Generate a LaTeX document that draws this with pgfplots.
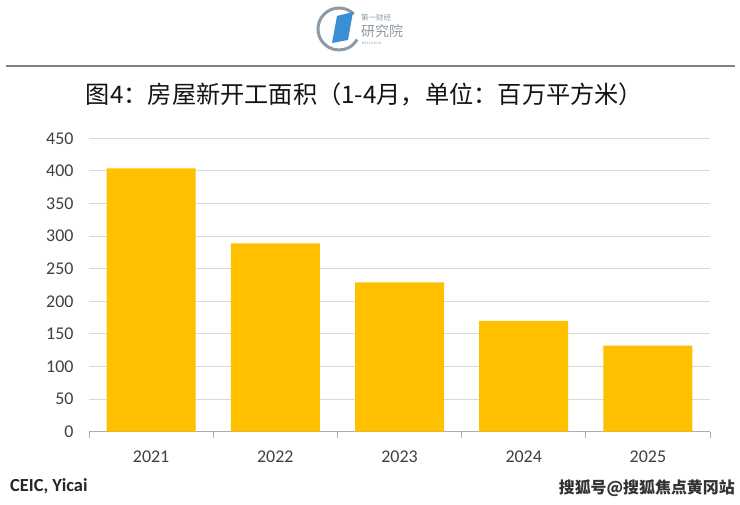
\documentclass[border=0pt]{standalone}
\usepackage{pgfplots}
\pgfplotsset{compat=1.18}
\usepackage{fontspec}
\setmainfont{Carlito}
\newfontfamily\cjk{Noto Sans CJK SC}
\definecolor{bargold}{HTML}{FFC000}
\definecolor{gridgray}{HTML}{D9D9D9}
\definecolor{labgray}{HTML}{404040}
\definecolor{logogray}{HTML}{8C9BA5}
\definecolor{logoblue}{HTML}{3B8FD4}
\begin{document}
\begin{tikzpicture}[x=1bp,y=1bp]
\path[use as bounding box, fill=white] (0,0) rectangle (740,505);
% logo
\draw[logogray, line width=3bp] (339,476) ++(45:21) arc[start angle=45, end angle=330, radius=21];
\fill[logoblue] (332,462) -- (337,489) -- (353,493) -- (348,465) -- cycle;
\node[anchor=west, text=logogray, inner sep=0, font=\cjk\fontsize{7.5}{8}\selectfont] at (361,487) {第一财经};
\node[anchor=west, text=logogray, inner sep=0, font=\cjk\fontsize{14}{14}\selectfont] at (361,474) {研究院};
\node[anchor=west, text=logogray, inner sep=0, font=\fontsize{3.5}{4}\selectfont] at (362,461.5) {R\,E\,S\,E\,A\,R\,C\,H};
% rule
\draw[black!50, line width=1.8bp] (6,439) -- (735,439);
% title
\node[font=\cjk\fontsize{24.3}{25}\selectfont, text=black!92, inner sep=0] at (364.5,411) {图4：房屋新开工面积（1-4月，单位：百万平方米）};
\begin{axis}[
  at={(89bp,73.3bp)}, anchor=south west,
  scale only axis, width=621bp, height=293.4bp,
  xmin=-0.5, xmax=4.5, ymin=0, ymax=450,
  ytick={0,50,...,450},
  xtick={0,1,2,3,4},
  xticklabels={2021,2022,2023,2024,2025},
  extra x ticks={-0.5,0.5,1.5,2.5,3.5,4.5},
  extra x tick labels={},
  extra x tick style={major tick length=6bp, tick align=outside, tick style={gridgray!80!black, line width=1bp}, grid=none},
  major tick length=0pt,
  ymajorgrids, grid style={gridgray, line width=1bp},
  axis x line*=bottom, axis y line*=left,
  y axis line style={draw=none},
  x axis line style={gridgray!80!black, line width=1bp},
  tick label style={font=\fontsize{18}{18}\selectfont, text=labgray},
  yticklabel style={xshift=-12bp},
  xticklabel style={yshift=-16bp},
  /pgf/number format/assume math mode=true,
  clip=false,
]
\addplot[ybar, bar width=89bp, fill=bargold, draw=none] coordinates {
  (0,404) (1,289) (2,229) (3,170) (4,132)
};
\end{axis}
% source
\node[anchor=base west, inner sep=0, font=\bfseries\fontsize{18.5}{19}\selectfont, text=black!85] at (10,13.5) {CEIC, Yicai};
% watermark
\node[anchor=east, inner sep=0, font=\cjk\bfseries\fontsize{16}{16}\selectfont, text=black!80] at (735,17) {搜狐号@搜狐焦点黄冈站};
\end{tikzpicture}
\end{document}
